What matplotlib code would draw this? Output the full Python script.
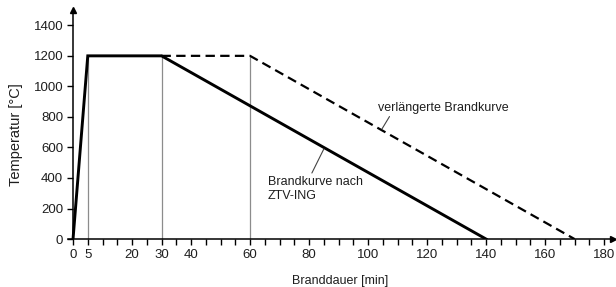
import numpy as np
import matplotlib.pyplot as plt

plt.rcParams['font.family'] = ['Liberation Sans', 'DejaVu Sans']

# fire curves (time in min, temperature in °C)
ztv_t = [0, 5, 30, 140]
ztv_T = [0, 1200, 1200, 0]
ext_t = [30, 60, 170]
ext_T = [1200, 1200, 0]
guide_t = [5, 30, 60]
guide_T = 1200

xlabels = [0, 5, 20, 30, 40, 60, 80, 100, 120, 140, 160, 180]
yticks = [0, 200, 400, 600, 800, 1000, 1200, 1400]

fig = plt.figure(figsize=(6.16, 2.87), dpi=100)
ax = fig.add_axes([0.1104, 0.167, 0.8847, 0.798])

txt = '#1e1e1e'
ax.vlines(guide_t, 0, guide_T, color='#8c8c8c', lw=0.9)
ax.plot(ztv_t, ztv_T, color='black', lw=2.1, solid_joinstyle='miter')
ax.plot(ext_t, ext_T, color='black', lw=1.6, dashes=(4.2, 2.4))

ax.set_xlim(-1.7, 183)
ax.set_ylim(0, 1500)
ax.spines[['top', 'right']].set_visible(False)
ax.spines['left'].set_position(('data', 0))
for s in ('left', 'bottom'):
    ax.spines[s].set_linewidth(1.1)

ax.set_xticks(xlabels)
ax.set_xticklabels([str(v) for v in xlabels])
ax.set_xticks(np.arange(0, 181, 5), minor=True)
ax.set_yticks(yticks)
ax.tick_params(axis='both', which='both', direction='out', length=4, width=1,
               labelsize=9.5, labelcolor=txt, pad=3)

# axis arrows
ax.plot(1, 0, '>k', ms=5, transform=ax.get_yaxis_transform(), clip_on=False)
ax.plot(0, 1, '^k', ms=5, transform=ax.get_xaxis_transform(), clip_on=False)

ax.set_xlabel('Branddauer [min]', fontsize=9, color=txt, labelpad=10)
ax.set_ylabel('Temperatur [°C]', fontsize=10.5, color=txt)
ax.yaxis.set_label_coords(-0.083, 0.454)

# annotations with leader lines
ax.annotate('verlängerte Brandkurve', xy=(104.7, 721), xytext=(103.4, 860),
            fontsize=9, color=txt, ha='left', va='center',
            arrowprops=dict(arrowstyle='-', color='#444444', lw=0.8,
                            shrinkA=0, shrinkB=0, relpos=(0.1, 0.0)))
ax.annotate('Brandkurve nach\nZTV-ING', xy=(85, 590), xytext=(66, 330),
            fontsize=9, color=txt, ha='left', va='center', linespacing=1.2,
            arrowprops=dict(arrowstyle='-', color='#444444', lw=0.8,
                            shrinkA=0, shrinkB=0, relpos=(0.45, 1.0)))

fig.savefig('out.png', dpi=100)
